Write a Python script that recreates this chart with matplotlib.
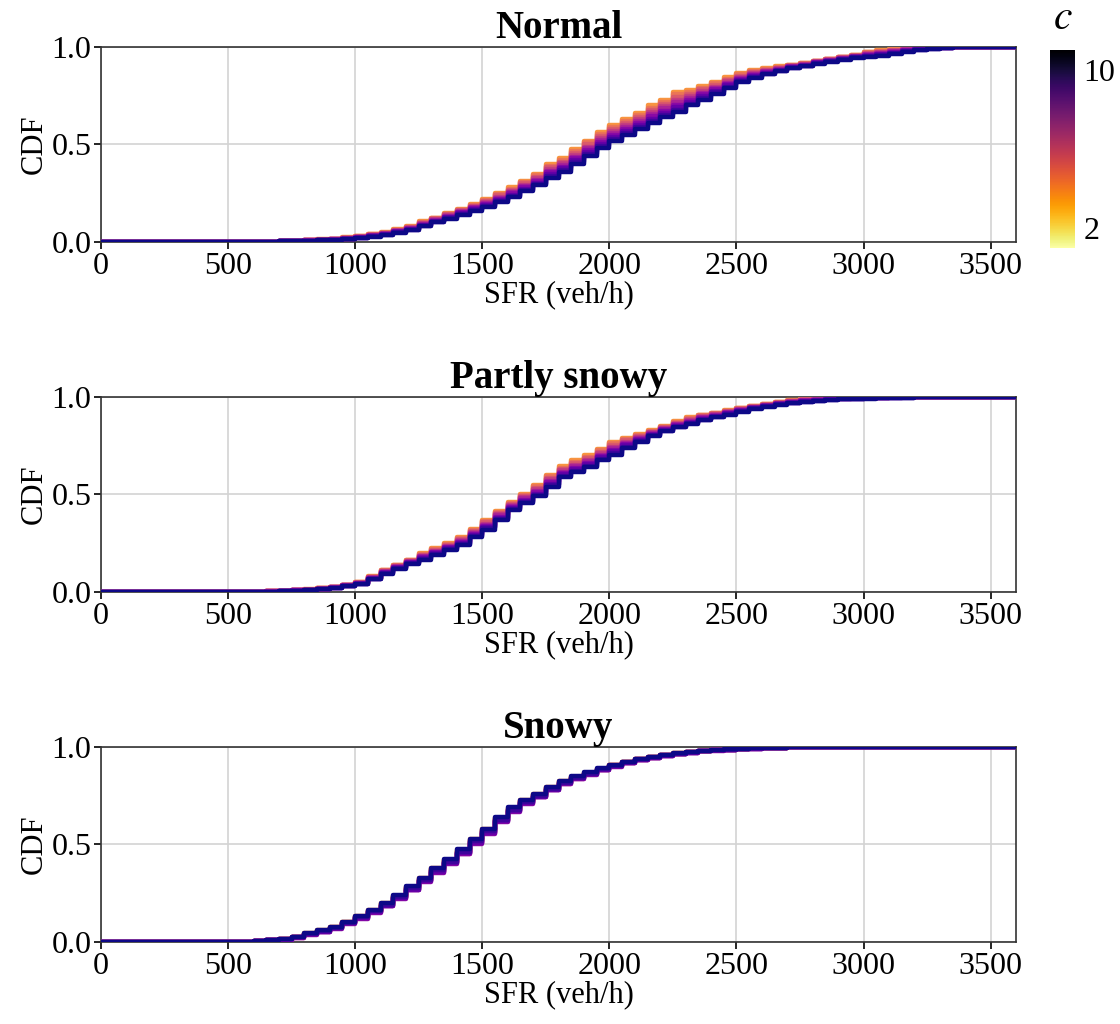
import numpy as np
import matplotlib
matplotlib.use('Agg')
import matplotlib.pyplot as plt
from matplotlib import cm
from matplotlib.colors import Normalize

plt.rcParams['font.family'] = ['Liberation Serif', 'DejaVu Serif']
plt.rcParams['mathtext.fontset'] = 'stix'

# grid of SFR values (veh/h) the CDFs are read on
step = 50
c_values = [2, 3, 4, 5, 6, 7, 8, 9, 10]
titles = ['Normal', 'Partly snowy', 'Snowy']

# Normal: read from x = 600, every 50 veh/h
normal_start = 600
normal_c10 = [0.000, 0.001, 0.003, 0.004, 0.006, 0.008, 0.010, 0.014, 0.020, 0.027,
              0.035, 0.047, 0.060, 0.080, 0.100, 0.120, 0.140, 0.160, 0.180, 0.205,
              0.230, 0.260, 0.290, 0.330, 0.360, 0.400, 0.440, 0.480, 0.520, 0.550,
              0.580, 0.610, 0.640, 0.665, 0.700, 0.730, 0.760, 0.790, 0.820, 0.840,
              0.860, 0.875, 0.890, 0.900, 0.915, 0.925, 0.935, 0.945, 0.950, 0.955,
              0.965, 0.975, 0.985, 0.990, 0.995, 0.998, 1.000]
normal_c2 = [0.000, 0.002, 0.005, 0.007, 0.010, 0.013, 0.017, 0.023, 0.030, 0.040,
             0.050, 0.065, 0.080, 0.105, 0.125, 0.148, 0.170, 0.195, 0.220, 0.250,
             0.280, 0.315, 0.350, 0.400, 0.430, 0.475, 0.520, 0.565, 0.600, 0.630,
             0.660, 0.700, 0.730, 0.770, 0.780, 0.800, 0.820, 0.845, 0.865, 0.880,
             0.890, 0.900, 0.910, 0.920, 0.930, 0.940, 0.950, 0.960, 0.975, 0.983,
             0.990, 0.995, 1.000]
# where each c curve sits between the c=10 curve (0) and the c=2 curve (1)
normal_pos = [1.0, 0.88, 0.75, 0.62, 0.5, 0.38, 0.25, 0.12, 0.0]

# Partly snowy
partly_start = 600
partly_c10 = [0.000, 0.002, 0.004, 0.007, 0.010, 0.015, 0.020, 0.030, 0.040, 0.065,
              0.093, 0.118, 0.145, 0.165, 0.190, 0.215, 0.240, 0.280, 0.320, 0.370,
              0.420, 0.455, 0.490, 0.540, 0.590, 0.615, 0.640, 0.675, 0.705, 0.740,
              0.770, 0.800, 0.825, 0.845, 0.860, 0.880, 0.895, 0.910, 0.925, 0.940,
              0.950, 0.960, 0.968, 0.975, 0.980, 0.985, 0.988, 0.990, 0.992, 0.994,
              0.996, 0.997, 0.998, 0.999, 1.000]
partly_c2 = [0.000, 0.003, 0.006, 0.009, 0.013, 0.019, 0.026, 0.038, 0.050, 0.080,
             0.113, 0.140, 0.165, 0.200, 0.225, 0.250, 0.280, 0.325, 0.370, 0.415,
             0.460, 0.505, 0.550, 0.600, 0.645, 0.675, 0.700, 0.735, 0.770, 0.790,
             0.810, 0.830, 0.850, 0.875, 0.895, 0.910, 0.920, 0.932, 0.945, 0.955,
             0.965, 0.975, 0.983, 0.990, 0.993, 0.995, 0.997, 0.998, 0.999, 1.000]
partly_pos = [1.0, 0.88, 0.75, 0.62, 0.5, 0.38, 0.25, 0.12, 0.0]

# Snowy: c=10 is on top here, mid c values sit a little lower
snowy_start = 500
snowy_c10 = [0.000, 0.002, 0.005, 0.010, 0.015, 0.027, 0.045, 0.060, 0.077, 0.105,
             0.134, 0.165, 0.200, 0.240, 0.285, 0.330, 0.380, 0.425, 0.475, 0.530,
             0.580, 0.640, 0.690, 0.730, 0.760, 0.795, 0.825, 0.850, 0.870, 0.890,
             0.910, 0.925, 0.940, 0.950, 0.960, 0.968, 0.975, 0.980, 0.985, 0.988,
             0.990, 0.993, 0.995, 0.997, 1.000]
snowy_low = [0.000, 0.001, 0.004, 0.008, 0.012, 0.022, 0.038, 0.052, 0.068, 0.093,
             0.120, 0.150, 0.183, 0.222, 0.265, 0.308, 0.355, 0.400, 0.450, 0.505,
             0.555, 0.615, 0.668, 0.710, 0.742, 0.778, 0.810, 0.836, 0.858, 0.880,
             0.900, 0.917, 0.932, 0.944, 0.955, 0.963, 0.971, 0.977, 0.982, 0.986,
             0.989, 0.992, 0.994, 0.996, 0.998, 1.000]
# position between the lowest curve (0) and c=10 (1)
snowy_pos = [0.9, 0.75, 0.55, 0.35, 0.15, 0.0, 0.2, 0.5, 1.0]


def full_curve(start, vals, sfr):
    # zeros before the first read value, ones after the last one
    n0 = int(start / step)
    out = np.concatenate([np.zeros(n0), vals])
    return np.concatenate([out, np.ones(len(sfr) - len(out))])


sfr = np.arange(0, 3601, step)

panels = [
    (full_curve(normal_start, normal_c10, sfr), full_curve(normal_start, normal_c2, sfr), normal_pos),
    (full_curve(partly_start, partly_c10, sfr), full_curve(partly_start, partly_c2, sfr), partly_pos),
    (full_curve(snowy_start, snowy_low, sfr), full_curve(snowy_start, snowy_c10, sfr), snowy_pos),
]

fig = plt.figure(figsize=(11.2, 10.24), dpi=100)
bottoms = [0.7637, 0.4219, 0.0801]
line_cmap = cm.plasma

for k, (lo, hi, pos) in enumerate(panels):
    ax = fig.add_axes([0.0902, bottoms[k], 0.817, 0.1904])
    for c, p in zip(c_values, pos):
        cdf = lo + p * (hi - lo)
        col = line_cmap(0.75 * (10 - c) / 8)
        ax.step(sfr, cdf, where='post', color=col, lw=3.2, zorder=2 + c)

    ax.set_xlim(0, 3600)
    ax.set_ylim(0, 1)
    ax.set_xticks(range(0, 3501, 500))
    ax.set_yticks([0.0, 0.5, 1.0])
    ax.set_yticklabels(['0.0', '0.5', '1.0'])
    ax.grid(True, color='#d3d3d3', lw=1.2)
    ax.set_axisbelow(True)
    ax.tick_params(labelsize=23, length=5, width=1.2, pad=2)
    for s in ax.spines.values():
        s.set_linewidth(1.2)
        s.set_color('#333333')
    ax.set_xlabel('SFR (veh/h)', fontsize=22, labelpad=0)
    ax.set_ylabel('CDF', fontsize=22, labelpad=2)
    ax.set_title(titles[k], fontsize=28, fontweight='bold', pad=4)

# colorbar for c on the first panel
cax = fig.add_axes([0.9375, 0.7578, 0.0223, 0.193])
sm = cm.ScalarMappable(norm=Normalize(1, 11), cmap='inferno_r')
cb = fig.colorbar(sm, cax=cax, ticks=[2, 10])
cb.outline.set_visible(False)
cb.ax.tick_params(length=0, labelsize=23, pad=6)
fig.text(0.9487, 0.982, '$c$', fontsize=30, ha='center', va='center')

plt.savefig('out.png', dpi=100)
